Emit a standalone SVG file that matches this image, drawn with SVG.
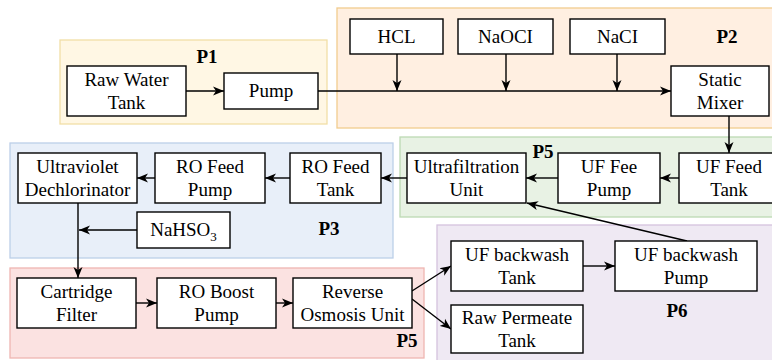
<svg xmlns="http://www.w3.org/2000/svg" width="772" height="360" viewBox="0 0 772 360">
<defs>
<marker id="arr" markerUnits="userSpaceOnUse" markerWidth="12" markerHeight="10" refX="11" refY="5" orient="auto">
<path d="M0,0.5 L11,5 L0,9.5 L3,5 Z" fill="#000"/>
</marker>
<style>
.n rect{fill:#fff;stroke:#000;stroke-width:1.4}
text{font-family:"Liberation Serif","Times New Roman",serif;font-size:19px;fill:#000;text-anchor:middle}
.lbl{font-weight:bold}
.c line,.c path{stroke:#000;stroke-width:1.4;fill:none}
.a{marker-end:url(#arr)}
</style>
</defs>
<rect width="772" height="360" fill="#fff"/>
<g id="groups">
<rect x="60" y="40" width="267" height="84" fill="#fff7e4" stroke="#f2dfa6" stroke-width="1.3"/>
<rect x="337" y="8" width="445" height="120" fill="#ffefe1" stroke="#f1cc8e" stroke-width="1.3"/>
<rect x="400" y="137" width="382" height="80" fill="#e8f2e4" stroke="#bcd9b3" stroke-width="1.3"/>
<rect x="10" y="143" width="383" height="115" fill="#e8eff9" stroke="#bccfe9" stroke-width="1.3"/>
<rect x="10" y="268" width="414" height="90" fill="#fbe2e1" stroke="#efb5b1" stroke-width="1.3"/>
<rect x="437" y="225" width="345" height="145" fill="#efe9f3" stroke="#d4c3de" stroke-width="1.3"/>
<text class="lbl" x="207" y="63">P1</text>
<text class="lbl" x="727" y="43">P2</text>
<text class="lbl" x="543" y="158">P5</text>
<text class="lbl" x="329" y="235">P3</text>
<text class="lbl" x="407" y="347">P5</text>
<text class="lbl" x="677" y="317">P6</text>
</g>
<g id="connectors" class="c">
<line class="a" x1="186" y1="91" x2="224" y2="91"/>
<line class="a" x1="318" y1="91" x2="671" y2="91"/>
<line class="a" x1="397" y1="54" x2="397" y2="91"/>
<line class="a" x1="506" y1="54" x2="506" y2="91"/>
<line class="a" x1="617" y1="54" x2="617" y2="91"/>
<line class="a" x1="729" y1="116" x2="729" y2="153"/>
<line class="a" x1="679" y1="178" x2="660" y2="178"/>
<line class="a" x1="558" y1="178" x2="526" y2="178"/>
<line class="a" x1="407" y1="178" x2="381" y2="178"/>
<line class="a" x1="290" y1="178" x2="265" y2="178"/>
<line class="a" x1="155" y1="178" x2="137" y2="178"/>
<line class="a" x1="137" y1="230" x2="79" y2="230"/>
<line class="a" x1="78" y1="203" x2="78" y2="278"/>
<line class="a" x1="136" y1="303" x2="157" y2="303"/>
<line class="a" x1="276" y1="303" x2="293" y2="303"/>
<line class="a" x1="412" y1="291" x2="451" y2="266"/>
<line class="a" x1="412" y1="299" x2="451" y2="329"/>
<line class="a" x1="583" y1="266" x2="615" y2="266"/>
<line class="a" x1="687" y1="241" x2="527" y2="203"/>
</g>
<g id="raw-water-tank" class="n"><rect x="67" y="66" width="119" height="50"/><text x="126.5" y="86">Raw Water</text><text x="126.5" y="109">Tank</text></g>
<g id="pump" class="n"><rect x="224" y="73" width="94" height="36"/><text x="271" y="97">Pump</text></g>
<g id="hcl" class="n"><rect x="350" y="19" width="93" height="35"/><text x="396.5" y="43">HCL</text></g>
<g id="naoci" class="n"><rect x="458" y="19" width="95" height="35"/><text x="505.5" y="43">NaOCI</text></g>
<g id="naci" class="n"><rect x="570" y="19" width="95" height="35"/><text x="617.5" y="43">NaCI</text></g>
<g id="static-mixer" class="n"><rect x="671" y="66" width="98" height="50"/><text x="720" y="86">Static</text><text x="720" y="109">Mixer</text></g>
<g id="uf-feed-tank" class="n"><rect x="679" y="153" width="100" height="50"/><text x="729" y="173">UF Feed</text><text x="729" y="196">Tank</text></g>
<g id="uf-fee-pump" class="n"><rect x="558" y="153" width="102" height="50"/><text x="609" y="173">UF Fee</text><text x="609" y="196">Pump</text></g>
<g id="ultrafiltration-unit" class="n"><rect x="407" y="153" width="119" height="50"/><text x="466.5" y="173">Ultrafiltration</text><text x="466.5" y="196">Unit</text></g>
<g id="ro-feed-tank" class="n"><rect x="290" y="153" width="91" height="50"/><text x="335.5" y="173">RO Feed</text><text x="335.5" y="196">Tank</text></g>
<g id="ro-feed-pump" class="n"><rect x="155" y="153" width="110" height="50"/><text x="210" y="173">RO Feed</text><text x="210" y="196">Pump</text></g>
<g id="uv-dechlorinator" class="n"><rect x="18" y="153" width="119" height="50"/><text x="77.5" y="173">Ultraviolet</text><text x="77.5" y="196">Dechlorinator</text></g>
<g id="nahso3" class="n"><rect x="137" y="212" width="93" height="36"/><text x="183.5" y="236">NaHSO<tspan font-size="13" dy="5">3</tspan></text></g>
<g id="cartridge-filter" class="n"><rect x="17" y="278" width="119" height="50"/><text x="76.5" y="298">Cartridge</text><text x="76.5" y="321">Filter</text></g>
<g id="ro-boost-pump" class="n"><rect x="157" y="278" width="119" height="50"/><text x="216.5" y="298">RO Boost</text><text x="216.5" y="321">Pump</text></g>
<g id="reverse-osmosis-unit" class="n"><rect x="293" y="278" width="119" height="50"/><text x="352.5" y="298">Reverse</text><text x="352.5" y="321">Osmosis Unit</text></g>
<g id="uf-backwash-tank" class="n"><rect x="451" y="241" width="132" height="50"/><text x="517" y="261">UF backwash</text><text x="517" y="284">Tank</text></g>
<g id="uf-backwash-pump" class="n"><rect x="615" y="241" width="142" height="50"/><text x="686" y="261">UF backwash</text><text x="686" y="284">Pump</text></g>
<g id="raw-permeate-tank" class="n"><rect x="451" y="305" width="132" height="48"/><text x="517" y="324">Raw Permeate</text><text x="517" y="347">Tank</text></g>
</svg>
